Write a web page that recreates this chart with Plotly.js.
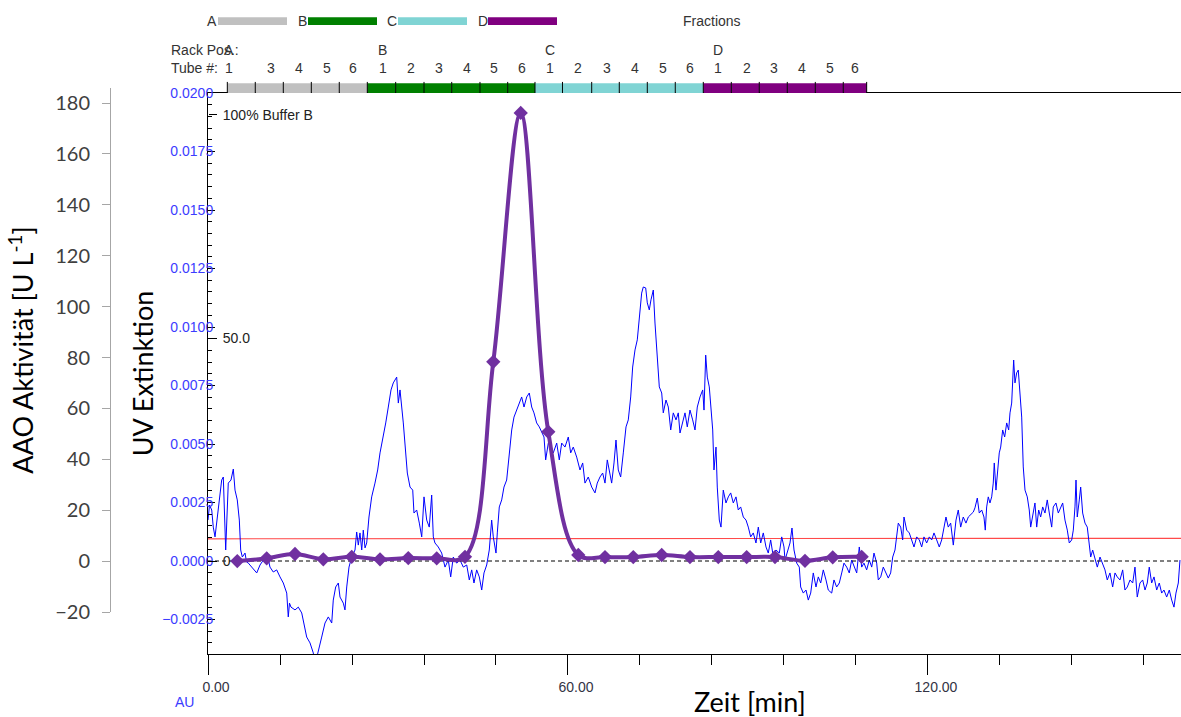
<!DOCTYPE html>
<html>
<head>
<meta charset="utf-8">
<script src="https://cdn.plot.ly/plotly-3.0.1.min.js"></script>
<style>html,body{margin:0;padding:0;background:#fff;}#chart{width:1181px;height:717px;}</style>
</head>
<body>
<div id="chart"></div>
<script>
// ---------------- DATA ----------------
// UV absorbance trace (AU) vs time (min)
const uvTime = [
0,0.25,0.62,0.88,1.17,1.67,2.28,2.55,2.95,3.38,
3.83,4.22,4.5,4.88,5.22,5.45,5.72,6.17,6.42,6.72,
7.28,7.83,8.12,8.67,9.22,9.78,10.33,10.88,11.45,12,
12.55,13.12,13.38,13.58,13.83,14.5,15.05,15.62,16.05,16.45,
17,17.55,17.83,18.38,18.95,19.5,20.05,20.62,20.88,21.28,
21.72,22,22.55,22.83,23.12,23.5,23.95,24.5,24.78,25.05,
25.33,25.62,25.88,26.17,26.45,26.83,27.28,27.83,28.28,28.67,
29.22,29.62,30.05,30.5,30.88,31.45,31.72,32,32.55,32.83,
33.22,33.67,34.12,34.33,34.78,35.22,35.62,36,36.45,36.88,
37.28,37.55,37.83,38.38,38.95,39.5,40.05,40.45,40.88,41.45,
42,42.55,43.12,43.55,43.95,44.33,44.78,45.22,45.62,46,
46.45,46.88,47.28,47.55,48,48.22,48.55,48.95,49.33,49.78,
50.05,50.33,50.62,51,51.45,51.88,52.28,52.67,53.12,53.55,
53.95,54.33,54.78,55.22,55.62,56,56.28,56.72,57.12,57.55,
58.12,58.55,58.95,59.5,60.05,60.45,60.88,61.45,62,62.45,
62.83,63.38,63.95,64.5,64.88,65.33,65.78,66.17,66.55,67,
67.28,67.67,68,68.38,68.78,69.22,69.67,70.05,70.45,70.78,
71.17,71.55,71.88,72.28,72.55,72.95,73.22,73.55,73.83,74.22,
74.5,74.88,75.22,75.62,75.88,76.33,76.72,77.12,77.55,78,
78.38,78.67,79.12,79.5,79.88,80.33,80.78,81.17,81.55,82,
82.45,82.67,82.95,83.22,83.55,83.78,84.12,84.33,84.67,84.88,
85.22,85.5,85.88,86.33,86.72,87.12,87.55,88,88.38,88.78,
89.22,89.67,90.05,90.45,90.88,91.33,91.72,92.12,92.55,93,
93.38,93.78,94.12,94.67,95.22,95.62,96,96.17,96.55,97,
97.33,97.67,98.12,98.55,98.78,99.22,99.67,100.05,100.45,100.88,
101.33,101.72,102.12,102.55,103,103.38,103.95,104.33,104.78,105.22,
105.62,106,106.45,106.88,107.28,107.67,108.12,108.55,108.95,109.33,
109.78,110.22,110.62,111,111.45,111.72,112.12,112.55,113,113.38,
113.78,114.12,114.5,114.78,115.05,115.45,115.78,116,116.45,116.88,
117.28,117.67,118.12,118.55,118.95,119.33,119.78,120.22,120.62,121,
121.45,121.88,122.28,122.67,123,123.38,123.78,124.22,124.67,125.05,
125.45,125.88,126.33,126.72,127.12,127.55,127.83,128.22,128.55,128.95,
129.33,129.55,129.78,130.05,130.33,130.62,130.88,131.05,131.33,131.55,
131.88,132.12,132.45,132.78,133.12,133.45,133.67,133.95,134.12,134.28,
134.5,134.78,135.05,135.33,135.62,135.88,136.17,136.55,136.88,137.12,
137.45,137.83,138.12,138.45,138.78,139.12,139.5,139.88,140.22,140.62,
140.88,141.33,141.72,142.12,142.45,142.83,143.22,143.55,143.95,144.22,
144.5,144.67,144.88,145.22,145.45,145.78,146.17,146.55,146.88,147.12,
147.45,147.83,148.22,148.67,149.12,149.5,149.88,150.33,150.78,151.17,
151.55,152,152.45,152.83,153.22,153.67,154.12,154.5,154.88,155.33,
155.78,156.17,156.55,156.88,157.28,157.67,158.12,158.55,158.95,159.33,
159.78,160.22,160.62,161,161.33,161.72,162
];
const uvAbs = [
0.00175,0.00239,0.00218,0.00145,0.00103,0.00205,0.00346,0.00359,0.00047,0.00333,
0.00346,0.00393,0.00303,0.00261,0.00175,0.00047,0.00017,0.00034,-0.00004,-0.00009,
-0.00026,-0.00038,-0.00051,-0.00017,0.00004,0.00038,-0.00026,-0.00047,-0.00038,-0.00068,
-0.00094,-0.00137,-0.00239,-0.00180,-0.00197,-0.00209,-0.00197,-0.00222,-0.00282,-0.00325,
-0.00350,-0.00393,-0.00444,-0.00380,-0.00325,-0.00265,-0.00239,-0.00265,-0.00167,-0.00111,
-0.00094,-0.00154,-0.00180,-0.00209,-0.00111,-0.00026,0.00017,0.00047,0.00124,0.00068,
0.00120,0.00047,0.00132,0.00056,0.00077,0.00188,0.00274,0.00333,0.00389,0.00462,
0.00530,0.00590,0.00658,0.00731,0.00761,0.00786,0.00675,0.00731,0.00590,0.00487,
0.00376,0.00316,0.00303,0.00205,0.00218,0.00162,0.00103,0.00274,0.00175,0.00145,
0.00282,0.00103,0.00077,0.00060,0.00034,-0.00026,0.00004,-0.00068,0.00017,-0.00009,
0.00004,-0.00026,-0.00017,-0.00081,-0.00038,-0.00094,-0.00038,-0.00068,-0.00124,-0.00051,
-0.00017,0.00047,0.00175,0.00103,0.00034,0.00120,0.00231,0.00261,0.00316,0.00346,
0.00419,0.00487,0.00560,0.00615,0.00645,0.00675,0.00701,0.00658,0.00701,0.00718,
0.00658,0.00633,0.00590,0.00573,0.00547,0.00530,0.00432,0.00504,0.00487,0.00462,
0.00504,0.00432,0.00504,0.00487,0.00530,0.00462,0.00487,0.00444,0.00389,0.00419,
0.00333,0.00359,0.00316,0.00291,0.00333,0.00359,0.00376,0.00333,0.00432,0.00359,
0.00333,0.00419,0.00517,0.00389,0.00359,0.00462,0.00573,0.00603,0.00701,0.00829,
0.00902,0.00945,0.01043,0.01145,0.01171,0.01167,0.01103,0.01073,0.01116,0.01158,
0.01017,0.00872,0.00744,0.00718,0.00633,0.00688,0.00658,0.00560,0.00633,0.00603,
0.00633,0.00547,0.00590,0.00633,0.00573,0.00645,0.00603,0.00560,0.00658,0.00701,
0.00731,0.00645,0.00880,0.00786,0.00744,0.00658,0.00560,0.00389,0.00487,0.00316,
0.00175,0.00145,0.00303,0.00248,0.00274,0.00291,0.00248,0.00274,0.00218,0.00231,
0.00188,0.00175,0.00145,0.00103,0.00120,0.00077,0.00145,0.00077,0.00120,0.00060,
0.00034,0.00090,0.00034,0.00047,0.00034,0.00103,0.00060,0.00004,0.00034,0.00077,
0.00141,0.00047,-0.00009,-0.00026,-0.00111,-0.00137,-0.00124,-0.00167,-0.00137,-0.00051,
-0.00111,-0.00068,-0.00094,-0.00038,-0.00081,-0.00124,-0.00137,-0.00081,-0.00111,-0.00094,
-0.00051,-0.00009,-0.00026,-0.00051,0.00004,-0.00026,-0.00051,0.00060,-0.00026,-0.00009,
-0.00038,0.00004,-0.00026,0.00034,-0.00009,-0.00081,-0.00068,-0.00026,-0.00051,-0.00073,
-0.00051,0.00017,0.00047,0.00103,0.00162,0.00145,0.00090,0.00188,0.00132,0.00120,
0.00090,0.00060,0.00103,0.00090,0.00060,0.00103,0.00077,0.00103,0.00090,0.00120,
0.00090,0.00060,0.00090,0.00145,0.00188,0.00145,0.00162,0.00068,0.00175,0.00218,
0.00145,0.00188,0.00162,0.00188,0.00197,0.00209,0.00227,0.00269,0.00205,0.00218,
0.00188,0.00132,0.00231,0.00274,0.00248,0.00274,0.00333,0.00419,0.00303,0.00359,
0.00462,0.00487,0.00560,0.00530,0.00590,0.00560,0.00633,0.00675,0.00761,0.00859,
0.00761,0.00804,0.00816,0.00731,0.00615,0.00402,0.00303,0.00274,0.00218,0.00145,
0.00188,0.00248,0.00145,0.00218,0.00188,0.00231,0.00205,0.00261,0.00205,0.00145,
0.00231,0.00248,0.00205,0.00231,0.00248,0.00175,0.00132,0.00077,0.00090,0.00132,
0.00231,0.00346,0.00188,0.00261,0.00316,0.00205,0.00162,0.00145,0.00077,0.00017,
0.00047,0.00004,-0.00026,0.00017,-0.00009,-0.00038,-0.00081,-0.00051,-0.00111,-0.00051,
-0.00068,-0.00081,-0.00038,-0.00124,-0.00111,-0.00081,-0.00094,-0.00026,-0.00154,-0.00094,
-0.00081,-0.00124,-0.00094,-0.00026,-0.00094,-0.00068,-0.00124,-0.00094,-0.00137,-0.00124,
-0.00154,-0.00124,-0.00167,-0.00197,-0.00137,-0.00094,0.00004
];

// AAO activity (U/L) per fraction
const aaoTime = [4.88,9.78,14.5,19.22,23.95,28.67,33.38,38.12,42.83,47.55,52.12,56.72,61.72,66.17,70.88,75.62,80.33,85.05,89.78,94.5,99.5,104.12,108.95];
const aaoActivity = [0,1.1,2.8,0.7,1.7,0.7,1.2,1.1,1.7,78.3,176.1,50.8,2.4,1.6,1.6,2.4,1.6,1.6,1.6,1.6,0.1,1.5,1.7];

// red reference trace (on UV scale)
const condTime = [0,3.3,3.4,162.17];
const condValue = [0.00095,0.00095,0.00097,0.00097];

// % Buffer B gradient (dashed)
const bufferTime = [0,162.17];
const bufferB = [0,0];

// Fraction collector
const racks = ['A','B','C','D'];
const rackColors = ['#c0c0c0','#008000','#80d4d4','#800080'];
const fracEdges = [3.22,7.88,12.55,17.22,21.88,26.55,31.28,36.0,40.62,45.33,49.95,54.5,59.08,63.95,68.55,73.22,77.88,82.55,87.22,91.88,96.55,101.22,105.88,109.78];
const fracRack = [0,0,0,0,0,1,1,1,1,1,1,2,2,2,2,2,2,3,3,3,3,3,3];
const rackLetterPos = [3.45,29.05,57.0,85.05];
const tubeLabels = ['1','3','4','5','6','1','2','3','4','5','6','1','2','3','4','5','6','1','2','3','4','5','6'];
const tubePos = [3.45,10.5,15.17,19.78,24.22,29.12,33.83,38.45,43.12,47.72,52.33,57.0,61.62,66.45,71.12,75.78,80.33,85.05,89.78,94.33,99.0,103.67,107.83];

// ---------------- LAYOUT HELPERS ----------------
const W = 1181, H = 717;
const M = {l:100, r:0, t:40, b:40};
const PW = W - M.l - M.r, PH = H - M.t - M.b;
const px2x = px => (px - M.l) / PW;
const px2y = py => (H - M.b - py) / PH;

const armFont = 'Liberation Sans, Arial, sans-serif';
const calFont = 'Lato, Carlito, Calibri, sans-serif';

// ---------------- TRACES ----------------
const traces = [];

traces.push({
  type:'scatter', mode:'lines', x:condTime, y:condValue, xaxis:'x', yaxis:'y',
  line:{color:'#ff4a4a', width:1.2}, hoverinfo:'skip'
});
traces.push({
  type:'scatter', mode:'lines', x:uvTime, y:uvAbs, xaxis:'x', yaxis:'y',
  line:{color:'#0000ff', width:1}, hoverinfo:'skip'
});
traces.push({
  type:'scatter', mode:'lines', x:bufferTime, y:bufferB, xaxis:'x', yaxis:'y3',
  line:{color:'#000', width:1, dash:'4px,3px'}, hoverinfo:'skip'
});
traces.push({
  type:'scatter', mode:'lines+markers', x:aaoTime, y:aaoActivity, xaxis:'x', yaxis:'y2',
  line:{color:'#7030a0', width:4, shape:'spline', smoothing:1},
  marker:{symbol:'diamond', size:11, color:'#7030a0'}, hoverinfo:'skip'
});

// fraction bar
const segLen = [], segBase = [], segCol = [], segY = [];
for (let i = 0; i < fracRack.length; i++) {
  segBase.push(fracEdges[i]);
  segLen.push(fracEdges[i+1] - fracEdges[i]);
  segCol.push(rackColors[fracRack[i]]);
  segY.push(0.5);
}
traces.push({
  type:'bar', orientation:'h', x:segLen, base:segBase, y:segY, width:1,
  xaxis:'x', yaxis:'y4', marker:{color:segCol, line:{width:0}}, hoverinfo:'skip'
});
const tkx = [], tky = [];
fracEdges.forEach(e => { tkx.push(e, e, null); tky.push(0, 1.16, null); });
traces.push({
  type:'scatter', mode:'lines', x:tkx, y:tky, xaxis:'x', yaxis:'y4',
  line:{color:'#000', width:1}, cliponaxis:false, hoverinfo:'skip'
});

// ---------------- ANNOTATIONS / SHAPES ----------------
const ann = [];
const shapes = [];
racks.forEach((r, i) => {
  ann.push({xref:'paper', yref:'paper', x:px2x(211.7 + 90.3*i), y:px2y(21), text:r, showarrow:false,
            xanchor:'center', yanchor:'middle', font:{family:armFont, size:14, color:'#333'}});
  shapes.push({type:'rect', xref:'paper', yref:'paper', x0:px2x(218 + 90*i), x1:px2x(287 + 90*i),
               y0:px2y(25), y1:px2y(17.3), fillcolor:rackColors[i], line:{width:0}});
  ann.push({xref:'x', yref:'paper', x:rackLetterPos[i], y:px2y(50), text:r, showarrow:false,
            xanchor:'center', yanchor:'middle', font:{family:armFont, size:14, color:'#333'}});
});
ann.push({xref:'paper', yref:'paper', x:px2x(712), y:px2y(21), text:'Fractions', showarrow:false,
          xanchor:'center', yanchor:'middle', font:{family:armFont, size:14, color:'#333'}});
ann.push({xref:'paper', yref:'paper', x:px2x(169), y:px2y(50), text:'Rack Pos.:', showarrow:false,
          xanchor:'left', yanchor:'middle', font:{family:armFont, size:14, color:'#333'}});
ann.push({xref:'paper', yref:'paper', x:px2x(169), y:px2y(68), text:'Tube #:', showarrow:false,
          xanchor:'left', yanchor:'middle', font:{family:armFont, size:14, color:'#333'}});
tubeLabels.forEach((t, i) => {
  ann.push({xref:'x', yref:'paper', x:tubePos[i], y:px2y(68), text:t, showarrow:false,
            xanchor:'center', yanchor:'middle', font:{family:armFont, size:14, color:'#333'}});
});
ann.push({xref:'paper', yref:'paper', x:px2x(184), y:px2y(702), text:'AU', showarrow:false,
          xanchor:'center', yanchor:'middle', font:{family:armFont, size:14, color:'#3c3cff'}});
ann.push({xref:'paper', yref:'paper', x:px2x(750), y:px2y(701), text:'Zeit [min]', showarrow:false,
          xanchor:'center', yanchor:'middle', font:{family:calFont, size:27, color:'#000'}});

// ---------------- LAYOUT ----------------
const layout = {
  width:W, height:H, margin:M, paper_bgcolor:'#fff', plot_bgcolor:'rgba(0,0,0,0)',
  showlegend:false, barmode:'overlay',
  xaxis:{
    domain:[px2x(208), 1], range:[-0.0001, 162.17], anchor:'y',
    showline:true, linecolor:'#000', linewidth:1, mirror:true,
    ticks:'outside', ticklen:20, tickcolor:'#000', tick0:0, dtick:60, tickformat:'.2f',
    tickfont:{family:armFont, size:14, color:'#333344'}, ticklabelshift:8,
    minor:{tick0:0, dtick:12, ticks:'outside', ticklen:10, tickcolor:'#000'},
    showgrid:false, zeroline:false
  },
  yaxis:{
    domain:[px2y(654), px2y(93)], range:[-0.003974, 0.02], anchor:'x', side:'left',
    showline:true, linecolor:'#000', linewidth:1,
    ticks:'inside', ticklen:7, tickcolor:'#000', tick0:0, dtick:0.0025, tickformat:'.4f',
    tickfont:{family:armFont, size:14, color:'#3c3cff'}, ticklabelstandoff:-9,
    minor:{dtick:0.0005, ticks:'inside', ticklen:4, tickcolor:'#000'},
    title:{text:'UV Extinktion', font:{family:calFont, size:27, color:'#000'}, standoff:0},
    showgrid:false, zeroline:false
  },
  yaxis2:{
    domain:[px2y(612), px2y(88)], range:[-20, 185.9], anchor:'free', position:px2x(110), side:'left',
    showline:true, linecolor:'#a6a6a6', linewidth:1.3,
    ticks:'outside', ticklen:8, tickcolor:'#a6a6a6', tick0:0, dtick:20,
    tickfont:{family:calFont, size:20, color:'#404040'}, ticklabelstandoff:8,
    title:{text:'AAO Aktivität [U L<sup>-1</sup>]', font:{family:calFont, size:27, color:'#000'}, standoff:12},
    showgrid:false, zeroline:false
  },
  yaxis3:{
    overlaying:'y', anchor:'free', position:px2x(208), side:'right', range:[-20.85, 104.93],
    tickmode:'array', tickvals:[0,50,100], ticktext:['0','50.0','100% Buffer B'],
    ticks:'outside', ticklen:8, tickcolor:'#000', ticklabelstandoff:3,
    tickfont:{family:armFont, size:14, color:'#222'},
    showline:false, showgrid:false, zeroline:false
  },
  yaxis4:{
    domain:[px2y(93), px2y(81.7)], range:[0, 1.16], anchor:'x', visible:false, fixedrange:true
  },
  annotations:ann,
  shapes:shapes
};

Plotly.newPlot('chart', traces, layout, {staticPlot:true, displayModeBar:false});
</script>
</body>
</html>
